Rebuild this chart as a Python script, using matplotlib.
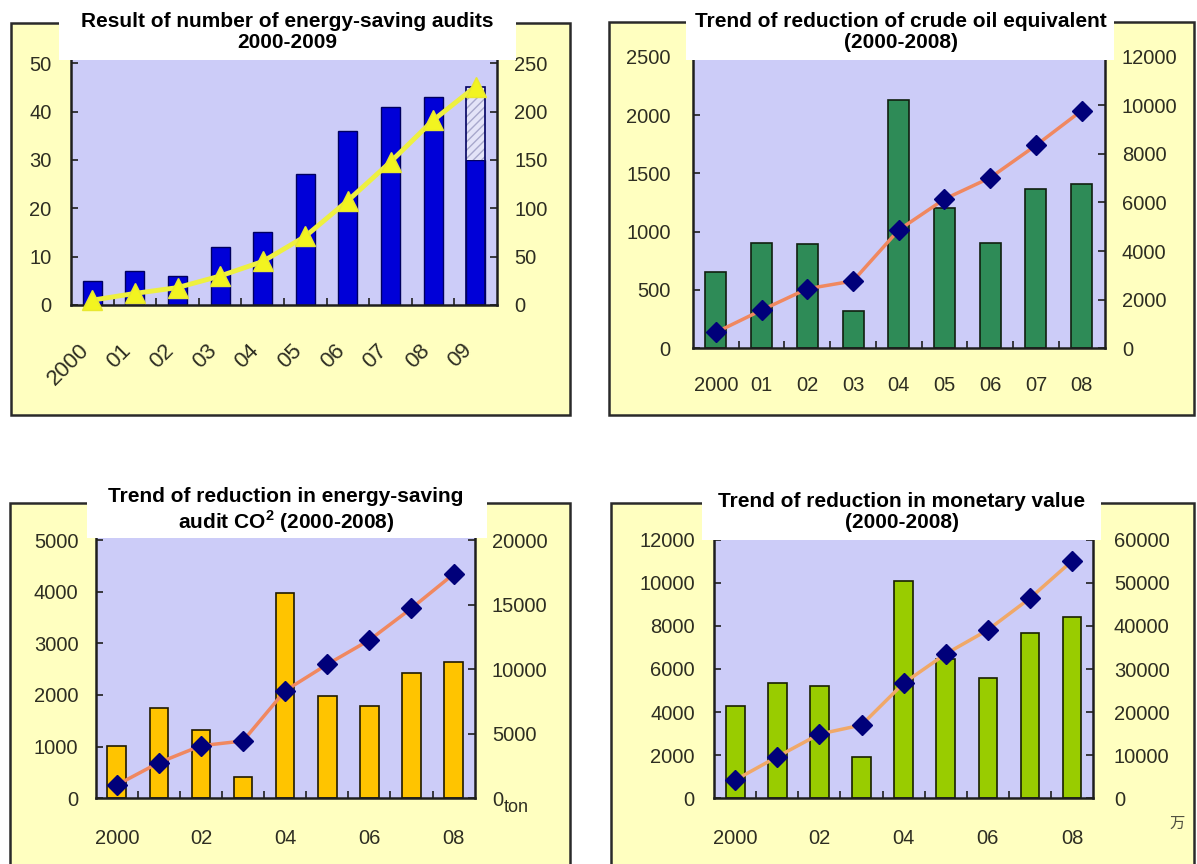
import matplotlib
matplotlib.use('Agg')
import matplotlib.pyplot as plt
from matplotlib.patches import Rectangle
from matplotlib.transforms import ScaledTranslation

# ---- data ----
p1_years = ['2000', '01', '02', '03', '04', '05', '06', '07', '08', '09']
p1_audits = [5, 7, 6, 12, 15, 27, 36, 41, 43, 30]
p1_audits_09_plan = 45
p1_audits_cum = [5, 12, 18, 30, 45, 71, 108, 148, 191, 226]

p2_years = ['2000', '01', '02', '03', '04', '05', '06', '07', '08']
p2_oil = [650, 900, 890, 320, 2130, 1200, 900, 1370, 1410]
p2_oil_cum = [655, 1570, 2450, 2770, 4870, 6140, 7020, 8350, 9780]

p3_years = ['2000', '', '02', '', '04', '', '06', '', '08']
p3_co2 = [1010, 1750, 1330, 410, 3980, 1980, 1780, 2430, 2640]
p3_co2_cum = [1030, 2760, 4070, 4440, 8330, 10370, 12250, 14710, 17360]

p4_years = ['2000', '', '02', '', '04', '', '06', '', '08']
p4_money = [4300, 5350, 5200, 1900, 10100, 6450, 5600, 7650, 8400]
p4_money_cum = [4250, 9650, 14900, 17000, 26700, 33500, 39050, 46400, 55050]

W, H = 1197, 864
YELLOW = '#ffffc0'
LAVENDER = '#ccccf8'
DARK = '#1e1e1e'
TXT = '#2e2e22'
TICKSIZE = 14.5

plt.rcParams['font.family'] = ['Liberation Sans', 'DejaVu Sans']
plt.rcParams['hatch.linewidth'] = 1.0

fig = plt.figure(figsize=(W / 100, H / 100), dpi=100)
fig.patch.set_facecolor('white')


def rect(x0, y0, x1, y1, **kw):
    r = Rectangle((x0 / W, 1 - y1 / H), (x1 - x0) / W, (y1 - y0) / H,
                  transform=fig.transFigure, **kw)
    fig.add_artist(r)
    return r


def panel(outer, tbox, title, tcenter, axx, y0px, ytoppx, lticks, rticks,
          lpad, rpad, xpad):
    # yellow frame
    rect(*outer, facecolor=YELLOW, edgecolor='#2a2a2a', lw=1.8, zorder=-5)
    # white title box
    rect(*tbox, facecolor='white', edgecolor='none', zorder=5)
    fig.text(tcenter[0] / W, 1 - tcenter[1] / H, title, ha='center', va='center',
             fontsize=15, fontweight='bold', color='black', linespacing=1.12,
             zorder=6)
    axtop = min(tbox[3] - 2, ytoppx - 2)
    k = (y0px - axtop) / (y0px - ytoppx)
    ax = fig.add_axes([axx[0] / W, 1 - y0px / H, (axx[1] - axx[0]) / W,
                       (y0px - axtop) / H])
    ax.set_facecolor(LAVENDER)
    ax.set_ylim(0, lticks[-1] * k)
    ax2 = ax.twinx()
    ax2.set_ylim(0, rticks[-1] * k)
    for s in ['top', 'right']:
        ax.spines[s].set_visible(False)
    for s in ['top', 'left', 'bottom']:
        ax2.spines[s].set_visible(False)
    for s in ['left', 'bottom']:
        ax.spines[s].set_color(DARK)
        ax.spines[s].set_linewidth(1.8)
    ax2.spines['right'].set_color(DARK)
    ax2.spines['right'].set_linewidth(1.8)
    ax.set_yticks(lticks)
    ax2.set_yticks(rticks)
    ax.tick_params(axis='y', direction='in', length=5, width=1.2, color=DARK,
                   pad=lpad, labelsize=TICKSIZE, labelcolor=TXT)
    ax2.tick_params(axis='y', direction='in', length=5, width=1.2, color=DARK,
                    pad=rpad, labelsize=TICKSIZE, labelcolor=TXT)
    ax.tick_params(axis='x', which='major', length=0, pad=xpad,
                   labelsize=TICKSIZE, labelcolor=TXT)
    ax.tick_params(axis='x', which='minor', direction='in', length=5, width=1.2,
                   color=DARK)
    return ax, ax2


# ---- panel 1: number of audits ----
ax, ax2 = panel((11, 23, 570, 415), (59, 10, 516, 60),
                'Result of number of energy-saving audits\n2000-2009', (287.5, 32),
                (71, 497), 305, 63.3, [0, 10, 20, 30, 40, 50],
                [0, 50, 100, 150, 200, 250], 14, 12.5, 25)
x1 = [i + 0.5 for i in range(len(p1_years))]
ax.set_xlim(0, len(p1_years))
ax.bar(x1, p1_audits, width=0.45, color='#0000d8', edgecolor='#000060', lw=1)
ax.bar(x1[-1], p1_audits_09_plan - p1_audits[-1], bottom=p1_audits[-1],
       width=0.45, color='#e4e4f8', edgecolor='#a8a8cc', hatch='////', lw=0)
ax.bar(x1[-1], p1_audits_09_plan, width=0.45, fill=False, edgecolor='#000060',
       lw=1.2)
ax.set_xticks(x1)
ax.set_xticklabels(p1_years, rotation=45, ha='right', va='top',
                   rotation_mode='anchor', fontsize=16)
off = ScaledTranslation(-0.14, 0, fig.dpi_scale_trans)
for lab in ax.get_xticklabels():
    lab.set_transform(lab.get_transform() + off)
ax.set_xticks(range(1, len(p1_years)), minor=True)
ax2.plot(x1, p1_audits_cum, color='#eef040', lw=3.5, marker='^', ms=14,
         mfc='#f2f420', mec='#e8e830', clip_on=False)

# ---- panel 2: crude oil equivalent ----
ax, ax2 = panel((609, 22, 1194, 415), (686, 10, 1114, 60),
                'Trend of reduction of crude oil equivalent\n(2000-2008)', (901, 32),
                (693, 1104.5), 348.3, 56.7, [0, 500, 1000, 1500, 2000, 2500],
                [0, 2000, 4000, 6000, 8000, 10000, 12000], 16, 12.5, 20)
x2 = [i + 0.5 for i in range(len(p2_years))]
ax.set_xlim(0, len(p2_years))
ax.bar(x2, p2_oil, width=0.46, color='#2e8b57', edgecolor='#102010', lw=1.2)
ax.set_xticks(x2)
ax.set_xticklabels(p2_years)
ax.set_xticks(range(1, len(p2_years)), minor=True)
ax2.plot(x2, p2_oil_cum, color='#f08860', lw=2.5, marker='D', ms=10,
         mfc='#00007a', mec='#00007a', clip_on=False)

# ---- panel 3: CO2 ----
ax, ax2 = panel((10, 503, 570, 880), (87, 488, 487, 538),
                'Trend of reduction in energy-saving\naudit CO$^{\\mathregular{2}}$ (2000-2008)',
                (286, 511), (95.7, 474.6), 798.3, 540,
                [0, 1000, 2000, 3000, 4000, 5000], [0, 5000, 10000, 15000, 20000],
                12.5, 12.5, 22)
x3 = [i + 0.5 for i in range(len(p3_years))]
ax.set_xlim(0, len(p3_years))
ax.bar(x3, p3_co2, width=0.44, color='#ffc400', edgecolor='#201a00', lw=1.2)
ax.set_xticks(x3)
ax.set_xticklabels(p3_years)
ax.set_xticks(range(1, len(p3_years)), minor=True)
ax2.plot(x3, p3_co2_cum, color='#f08860', lw=2.5, marker='D', ms=10,
         mfc='#00007a', mec='#00007a', clip_on=False)
fig.text(504 / W, 1 - 808 / H, 'ton', fontsize=13, color=TXT, ha='left',
         va='center')

# ---- panel 4: monetary value ----
ax, ax2 = panel((611, 503, 1194, 880), (702, 488, 1101, 540),
                'Trend of reduction in monetary value\n(2000-2008)', (901.5, 512),
                (714.2, 1093), 798.3, 539.7,
                [0, 2000, 4000, 6000, 8000, 10000, 12000],
                [0, 10000, 20000, 30000, 40000, 50000, 60000], 14, 15, 22)
x4 = [i + 0.5 for i in range(len(p4_years))]
ax.set_xlim(0, len(p4_years))
ax.bar(x4, p4_money, width=0.44, color='#99cc00', edgecolor='#182000', lw=1.2)
ax.set_xticks(x4)
ax.set_xticklabels(p4_years)
ax.set_xticks(range(1, len(p4_years)), minor=True)
ax2.plot(x4, p4_money_cum, color='#f0a868', lw=2.5, marker='D', ms=10,
         mfc='#00007a', mec='#00007a', clip_on=False)
fig.text(1177 / W, 1 - 823 / H, '万', family=['Noto Sans CJK JP', 'DejaVu Sans'],
         fontsize=11, color='#505040', ha='center', va='center')

fig.savefig('out.png', dpi=100)
